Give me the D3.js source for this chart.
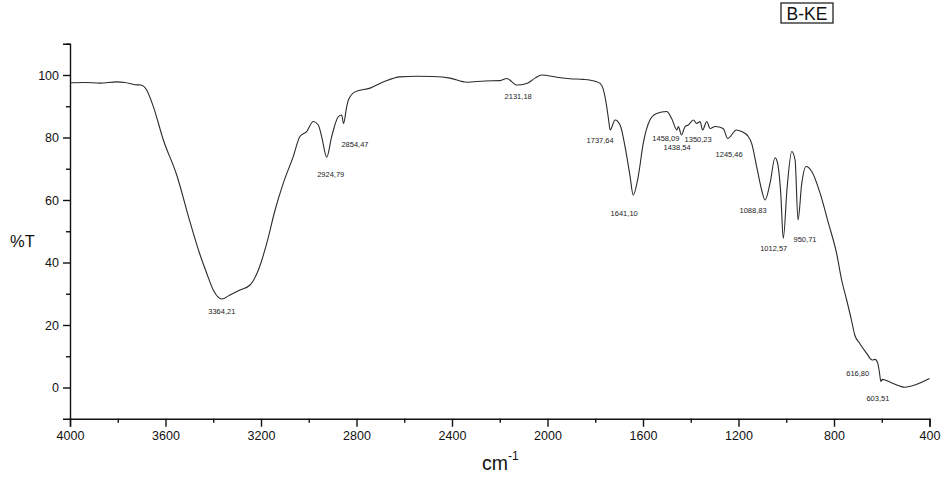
<!DOCTYPE html>
<html>
<head>
<meta charset="utf-8">
<script src="https://cdn.jsdelivr.net/npm/d3@7/dist/d3.min.js"></script>
<style>
  html, body { margin: 0; padding: 0; background: #fff; }
  svg { display: block; font-family: "Liberation Sans", Arial, sans-serif; }
</style>
</head>
<body>
<svg id="chart" width="942" height="481"></svg>
<script>
// FTIR spectrum of sample B-KE: wavenumber (cm-1) and transmittance (%T)
const wavenumber = [4000, 3937, 3874, 3804, 3770, 3728, 3703, 3679, 3651, 3609, 3553, 3497, 3455, 3427, 3400,
  3364.21, 3330, 3288, 3246, 3211, 3176, 3141, 3107, 3065, 3037, 3009, 2981, 2960, 2946, 2924.79, 2904, 2876,
  2862, 2854.47, 2841, 2834, 2806, 2743, 2681, 2618, 2550, 2480, 2408, 2338, 2262, 2199, 2170, 2149, 2131.18,
  2087, 2052, 2024, 1961, 1906, 1850, 1801, 1780, 1768, 1752, 1744, 1737.64, 1717, 1696, 1675, 1654, 1641.10,
  1620, 1599, 1571, 1543, 1501, 1480, 1458.09, 1452, 1438.54, 1424, 1410, 1389, 1375, 1361, 1350.23, 1333,
  1319, 1298, 1264, 1245.46, 1208, 1187, 1159, 1145, 1124, 1103, 1088.83, 1068, 1047, 1037, 1023, 1012.57,
  996, 977, 963, 950.71, 935, 917, 893, 858, 823, 789, 768, 747, 727, 713, 692, 663, 640, 628, 616.80, 610,
  603.51, 598, 586, 552, 503, 461, 426, 400];

const transmittance = [97.5, 97.6, 97.4, 97.8, 97.6, 96.9, 96.8, 95.2, 89.9, 79.2, 68.0, 52.9, 42.4, 36.5, 31.2,
  28.3, 29.6, 31.2, 32.8, 37.6, 46.1, 56.8, 65.3, 73.9, 80.3, 81.9, 85.1, 84.0, 80.3, 73.7, 80.3, 86.7,
  87.2, 84.5, 89.9, 92.0, 94.6, 95.8, 98.0, 99.4, 99.6, 99.5, 99.0, 97.7, 98.1, 98.2, 98.9, 97.8, 96.8,
  97.3, 99.0, 100.0, 99.3, 98.8, 98.6, 98.0, 97.3, 95.8, 89.9, 85.6, 82.4, 85.6, 84.0, 77.0, 67.5, 61.6,
  67.5, 78.1, 85.6, 87.7, 88.3, 86.1, 82.4, 83.5, 80.8, 83.5, 84.0, 85.6, 84.5, 85.1, 82.4, 85.1,
  82.9, 83.5, 82.9, 79.7, 82.4, 81.9, 80.3, 78.1, 70.7, 63.2, 60.0, 65.3, 73.5, 72.0, 62.1, 47.7,
  64.3, 75.5, 72.8, 53.6, 65.3, 70.7, 69.1, 62.1, 52.5, 42.9, 34.4, 28.0, 21.6, 16.8, 14.1, 10.9, 8.8, 9.0, 7.8, 5.0,
  1.9, 2.6, 2.4, 1.3, 0.1, 0.8, 1.9, 2.9];

// Annotated band positions (labels use decimal commas)
const peakLabels = ["3364,21", "2924,79", "2854,47", "2131,18", "1737,64", "1641,10", "1458,09", "1438,54",
  "1350,23", "1245,46", "1088,83", "1012,57", "950,71", "616,80", "603,51"];

const xTicksMajor = [4000, 3600, 3200, 2800, 2400, 2000, 1600, 1200, 800, 400];
const xTicksMinor = [3800, 3400, 3000, 2600, 2200, 1800, 1400, 1000, 600];
const yTicksMajor = [0, 20, 40, 60, 80, 100];
const yTicksMinor = [10, 30, 50, 70, 90, 110];

const sampleName = "B-KE";

// Label offsets (px) from the annotated point on the trace
const labelOffsets = {
  "3364,21": [0, 12.5], "2924,79": [4, 17], "2854,47": [11.5, 20.5], "2131,18": [2, 11],
  "1737,64": [-10, 10.5], "1641,10": [-9, 18], "1458,09": [-11, 8.5], "1438,54": [-4.5, 12],
  "1350,23": [-4.5, 9], "1245,46": [1.5, 15.5], "1088,83": [-12, 10.5], "1012,57": [-9.5, 9.5],
  "950,71": [7, 19], "616,80": [-20, 10.5], "603,51": [-3, 16.5]
};

const svg = d3.select("#chart");

const x = d3.scaleLinear().domain([4000, 400]).range([70, 929.5]);
const y = d3.scaleLinear().domain([-10, 110]).range([418.75, 43.75]);

const points = wavenumber.map((w, i) => ({ w, t: transmittance[i] }));

// Axes
const axisColor = "#111";
function styleAxis(g) {
  g.select(".domain").attr("stroke", axisColor).attr("stroke-width", 1.4);
  g.selectAll(".tick line").attr("stroke", axisColor).attr("stroke-width", 1.4);
  g.selectAll(".tick text").attr("fill", "#111").attr("font-size", 12.5)
    .attr("font-family", "'Liberation Sans', Arial, sans-serif");
}

const xAxisG = svg.append("g").attr("transform", `translate(0,${y(-10)})`)
  .call(d3.axisBottom(x).tickValues(xTicksMajor).tickSize(8).tickPadding(4).tickFormat(d3.format("d")));
styleAxis(xAxisG);
const xMinorG = svg.append("g").attr("transform", `translate(0,${y(-10)})`)
  .call(d3.axisBottom(x).tickValues(xTicksMinor).tickSize(4).tickFormat(""));
xMinorG.select(".domain").remove();
styleAxis(xMinorG);

const yAxisG = svg.append("g").attr("transform", `translate(${x(4000)},0)`)
  .call(d3.axisLeft(y).tickValues(yTicksMajor).tickSize(7).tickPadding(4).tickFormat(d3.format("d")));
styleAxis(yAxisG);
const yMinorG = svg.append("g").attr("transform", `translate(${x(4000)},0)`)
  .call(d3.axisLeft(y).tickValues(yTicksMinor).tickSize(4).tickFormat(""));
yMinorG.select(".domain").remove();
styleAxis(yMinorG);

// Spectrum trace
const line = d3.line()
  .x(d => x(d.w))
  .y(d => y(d.t))
  .curve(d3.curveMonotoneX);

svg.append("path")
  .datum(points)
  .attr("fill", "none")
  .attr("stroke", "#2a2a2a")
  .attr("stroke-width", 1.1)
  .attr("stroke-linejoin", "round")
  .attr("d", line);

// Transmittance at a given wavenumber (linear between samples)
function tAt(w) {
  for (let i = 0; i < points.length - 1; i++) {
    const a = points[i], b = points[i + 1];
    if (w <= a.w && w >= b.w) {
      const f = (a.w - w) / (a.w - b.w);
      return a.t + f * (b.t - a.t);
    }
  }
  return points[points.length - 1].t;
}

// Band annotations
svg.append("g").selectAll("text")
  .data(peakLabels)
  .join("text")
  .attr("x", d => x(+d.replace(",", ".")) + labelOffsets[d][0])
  .attr("y", d => y(tAt(+d.replace(",", "."))) + labelOffsets[d][1])
  .attr("dy", "0.35em")
  .attr("text-anchor", "middle")
  .attr("font-size", 7.5)
  .attr("fill", "#222")
  .text(d => d);

// Axis titles
svg.append("text")
  .attr("x", 10).attr("y", 247)
  .attr("font-size", 16.5).attr("fill", "#111")
  .text("%T");

const xTitle = svg.append("text")
  .attr("x", 482).attr("y", 470)
  .attr("font-size", 19.5).attr("fill", "#111");
xTitle.append("tspan").text("cm");
xTitle.append("tspan").attr("font-size", 12).attr("dy", -10).text("-1");

// Sample name box
const nameG = svg.append("g");
nameG.append("rect")
  .attr("x", 781).attr("y", 3).attr("width", 52).attr("height", 20)
  .attr("fill", "none").attr("stroke", "#111").attr("stroke-width", 1.2);
nameG.append("text")
  .attr("x", 807).attr("y", 19.5)
  .attr("text-anchor", "middle")
  .attr("font-size", 17.5).attr("fill", "#111")
  .text(sampleName);
</script>
</body>
</html>
